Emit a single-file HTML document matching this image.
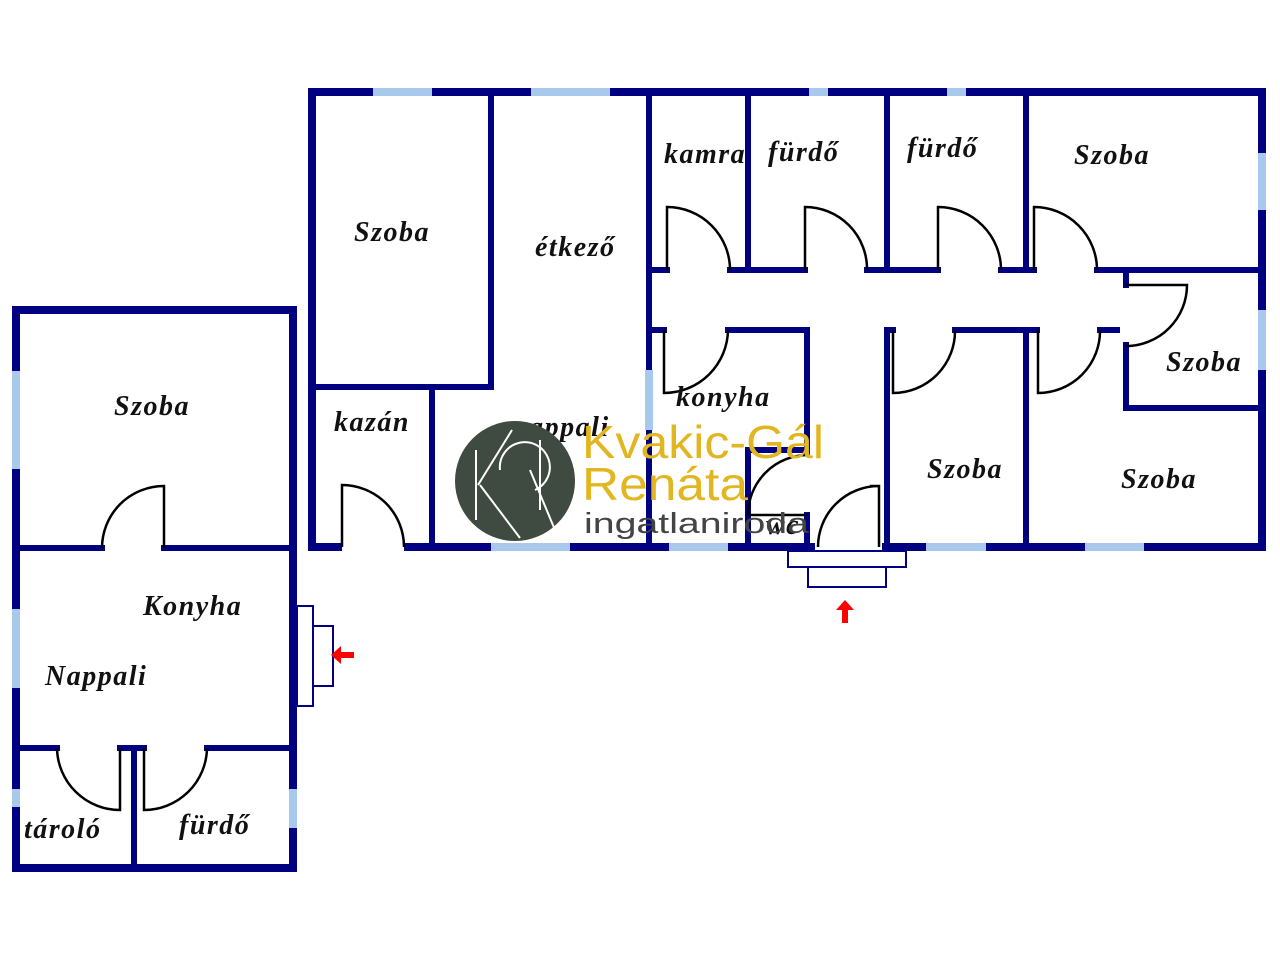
<!DOCTYPE html>
<html><head><meta charset="utf-8"><style>
html,body{margin:0;padding:0;background:#fff;}
svg{display:block;}
.w{stroke:#000080;stroke-linecap:square;fill:none;}
.o{stroke-width:8;}
.i{stroke-width:6;}
.win{stroke:#a8c8ec;stroke-width:8;}
.d{stroke:#000;stroke-width:2.5;fill:none;}
.l{font-family:"Liberation Serif",serif;font-style:italic;font-weight:bold;font-size:28px;letter-spacing:1.5px;fill:#111;}
</style></head><body>
<svg width="1280" height="960" viewBox="0 0 1280 960">
<rect x="312" y="92" width="950" height="455" class="w o"/>
<line x1="373" y1="92" x2="432" y2="92" class="win"/>
<line x1="531" y1="92" x2="610" y2="92" class="win"/>
<line x1="809" y1="92" x2="828" y2="92" class="win"/>
<line x1="947" y1="92" x2="966" y2="92" class="win"/>
<line x1="1262" y1="153" x2="1262" y2="210" class="win"/>
<line x1="1262" y1="310" x2="1262" y2="370" class="win"/>
<line x1="491" y1="547" x2="570" y2="547" class="win"/>
<line x1="669" y1="547" x2="728" y2="547" class="win"/>
<line x1="926" y1="547" x2="986" y2="547" class="win"/>
<line x1="1085" y1="547" x2="1144" y2="547" class="win"/>
<line x1="815" y1="547" x2="882" y2="547" stroke="#fff" stroke-width="10"/>
<line x1="342" y1="547" x2="404" y2="547" stroke="#fff" stroke-width="10"/>
<path class="w i" d="M491 92 V387 H312 M432 387 V547 M649 92 V547 M748 92 V270 M887 92 V270 M1026 92 V270"/>
<line x1="649" y1="370" x2="649" y2="430" class="win" stroke-width="6"/>
<path class="w i" d="M649 270 H667 M730 270 H805 M867 270 H938 M1001 270 H1034 M1097 270 H1262"/>
<path class="w i" d="M649 330 H664 M728 330 H807 V453 M807 515 V547 M748 450 H807 M748 450 V547 M887 330 H893 M955 330 H1037 M1100 330 H1117 M887 330 V547 M1026 330 V547"/>
<path class="w i" d="M1126 270 V285 M1126 345 V408 H1262"/>
<path class="d" d="M667 270 V207 A63 63 0 0 1 730 270"/>
<path class="d" d="M805 270 V207 A62 62 0 0 1 867 270"/>
<path class="d" d="M938 270 V207 A63 63 0 0 1 1001 270"/>
<path class="d" d="M1034 270 V207 A63 63 0 0 1 1097 270"/>
<path class="d" d="M1126 285 H1187 A61 61 0 0 1 1126 346"/>
<path class="d" d="M664 330 V393 A64 64 0 0 0 728 330"/>
<path class="d" d="M893 330 V393 A62 62 0 0 0 955 330"/>
<path class="d" d="M1038 330 V393 A62 62 0 0 0 1100 330"/>
<path class="d" d="M808 515 H748 A60 60 0 0 1 808 455"/>
<path class="d" d="M879 547 V486 H870 M879 486 A61 61 0 0 0 818 547"/>
<path class="d" d="M342 547 V485 A62 62 0 0 1 404 547"/>
<rect x="788" y="551" width="118" height="16" fill="none" stroke="#000080" stroke-width="2"/>
<rect x="808" y="567" width="78" height="20" fill="none" stroke="#000080" stroke-width="2"/>
<path d="M845 600 L836 610 H842 V623 H848 V610 H854 Z" fill="#f00"/>

<rect x="16" y="310" width="277" height="558" class="w o"/>
<line x1="16" y1="371" x2="16" y2="469" class="win"/>
<line x1="16" y1="609" x2="16" y2="688" class="win"/>
<line x1="16" y1="789" x2="16" y2="807" class="win"/>
<line x1="293" y1="789" x2="293" y2="828" class="win"/>
<path class="w i" d="M16 548 H102 M164 548 H293 M16 748 H57 M120 748 H144 M207 748 H293 M134 748 V868"/>
<path class="d" d="M164 548 V486 A62 62 0 0 0 102 548"/>
<path class="d" d="M120 748 V810 A63 63 0 0 1 57 748"/>
<path class="d" d="M144 748 V810 A63 63 0 0 0 207 748"/>
<rect x="297" y="606" width="16" height="100" fill="none" stroke="#000080" stroke-width="2"/>
<rect x="313" y="626" width="20" height="60" fill="none" stroke="#000080" stroke-width="2"/>
<path d="M331 655 L341 646 V652 H354 V658 H341 V664 Z" fill="#f00"/>

<text class="l" x="354" y="241">Szoba</text>
<text class="l" x="535" y="256">étkező</text>
<text class="l" x="664" y="163">kamra</text>
<text class="l" x="768" y="161">fürdő</text>
<text class="l" x="907" y="157">fürdő</text>
<text class="l" x="1074" y="164">Szoba</text>
<text class="l" x="1166" y="371">Szoba</text>
<text class="l" x="676" y="406">konyha</text>
<text class="l" x="334" y="431">kazán</text>
<text class="l" x="512" y="436">nappali</text>
<text class="l" x="927" y="478">Szoba</text>
<text class="l" x="1121" y="488">Szoba</text>
<text class="l" x="766" y="534" font-size="16">wc</text>
<text class="l" x="114" y="415">Szoba</text>
<text class="l" x="143" y="615">Konyha</text>
<text class="l" x="45" y="685">Nappali</text>
<text class="l" x="24" y="838">tároló</text>
<text class="l" x="179" y="834">fürdő</text>

<circle cx="515" cy="481" r="60" fill="#3f4a41"/>
<path d="M476 450 V520 M478 485 L512 430 M480 485 L520 538 M500 470 A25 25 0 1 1 535 490 M540 440 V510 M530 470 L555 530" stroke="#fff" stroke-width="2" fill="none"/>
<text x="582" y="458" font-family="Liberation Sans,sans-serif" font-size="46" fill="#e2b620" textLength="242" lengthAdjust="spacingAndGlyphs">Kvakic-Gál</text>
<text x="582" y="500" font-family="Liberation Sans,sans-serif" font-size="46" fill="#e2b620" textLength="166" lengthAdjust="spacingAndGlyphs">Renáta</text>
<text x="584" y="533" font-family="Liberation Sans,sans-serif" font-size="29" fill="#444" textLength="225" lengthAdjust="spacingAndGlyphs">ingatlaniroda</text>
</svg>
</body></html>
